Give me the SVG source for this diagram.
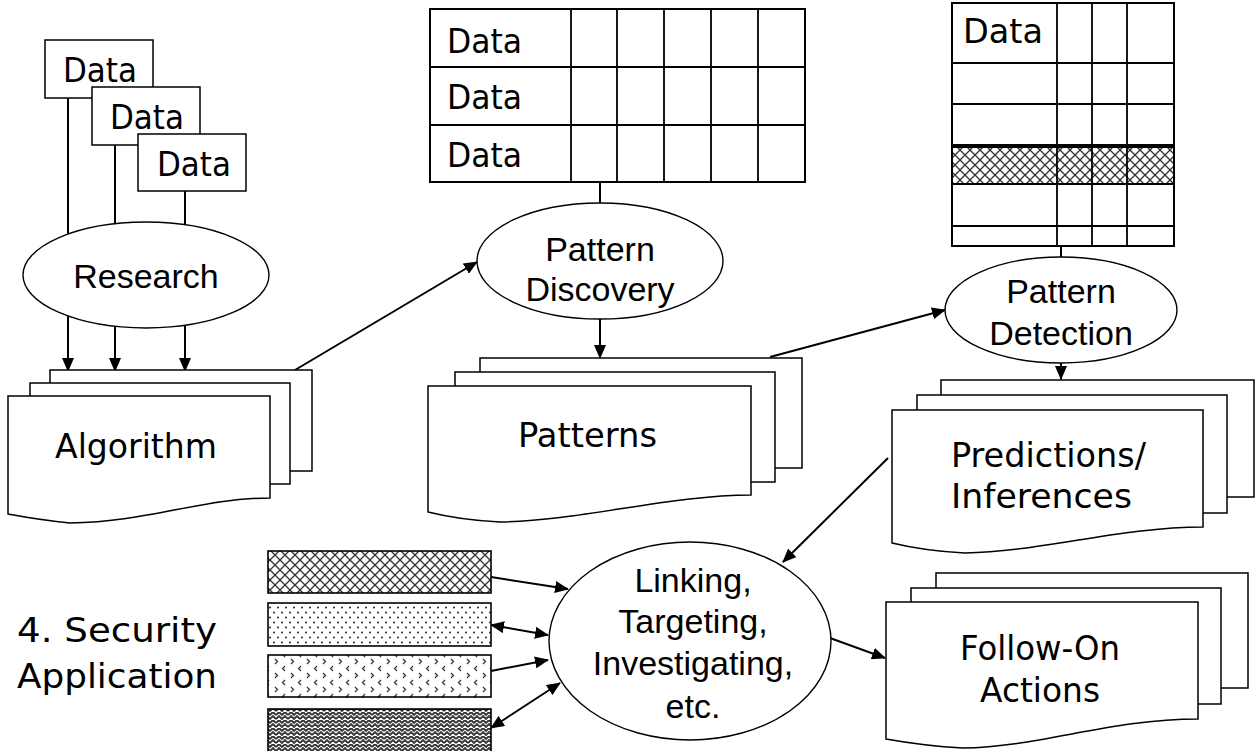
<svg xmlns="http://www.w3.org/2000/svg" width="1256" height="751" viewBox="0 0 1256 751">
<style>
.box{fill:#fff;stroke:#000;stroke-width:1.5}
.sheet{fill:#fff;stroke:#000;stroke-width:1.5}
.ell{fill:#fff;stroke:#000;stroke-width:1.4}
.grid{fill:none;stroke:#000;stroke-width:1.8}
.cn{fill:none;stroke:#000;stroke-width:2}
.arr{marker-end:url(#ah)}
.dbl{marker-end:url(#ah);marker-start:url(#ahs)}
.cs{font-family:"DejaVu Sans","Liberation Sans",sans-serif;font-size:33px;fill:#000}
.ar{font-family:"Liberation Sans",Arial,sans-serif;font-size:34px;fill:#000;text-anchor:middle}
</style>
<defs>
<marker id="ah" markerUnits="userSpaceOnUse" markerWidth="14" markerHeight="12" refX="13" refY="6" orient="auto"><path d="M0,0 L14,6 L0,12 Z" fill="#000"/></marker>
<marker id="ahs" markerUnits="userSpaceOnUse" markerWidth="14" markerHeight="12" refX="13" refY="6" orient="auto-start-reverse"><path d="M0,0 L14,6 L0,12 Z" fill="#000"/></marker>
<pattern id="cross" width="10" height="10" patternUnits="userSpaceOnUse"><rect width="10" height="10" fill="#fff"/><path d="M0,0 L10,10 M10,0 L0,10" stroke="#333" stroke-width="1.3"/></pattern>
<pattern id="dots" width="8" height="10" patternUnits="userSpaceOnUse"><rect width="8" height="10" fill="#fff"/><circle cx="2" cy="2.5" r="1" fill="#222"/><circle cx="6" cy="7.5" r="1" fill="#222"/></pattern>
<pattern id="chev" width="16" height="14" patternUnits="userSpaceOnUse"><rect width="16" height="14" fill="#fff"/><path d="M3,1 l2.5,2.5 l-2.5,2.5 M13,8 l-2.5,2.5 l2.5,2.5" fill="none" stroke="#333" stroke-width="1.2"/></pattern>
<pattern id="weave" width="12" height="8" patternUnits="userSpaceOnUse"><rect width="12" height="8" fill="#fff"/><path d="M0,3 l3,-3 l3,3 l3,-3 l3,3 M0,7 l3,-3 l3,3 l3,-3 l3,3" fill="none" stroke="#333" stroke-width="1.8"/><path d="M1.5,5 l2,-1.5 M7.5,5 l2,-1.5" stroke="#555" stroke-width="1"/></pattern>
</defs>

<g id="connectors">
<line class="cn" x1="68" y1="98" x2="68" y2="234"/>
<line class="cn" x1="115" y1="145" x2="115" y2="224"/>
<line class="cn" x1="185" y1="191" x2="185" y2="225"/>
<line class="cn arr" x1="68" y1="316" x2="68" y2="371"/>
<line class="cn arr" x1="115" y1="326" x2="115" y2="371"/>
<line class="cn arr" x1="185" y1="325" x2="185" y2="371"/>
<line class="cn arr" x1="290" y1="373" x2="477" y2="262"/>
<line class="cn" x1="600" y1="182" x2="600" y2="203"/>
<line class="cn arr" x1="600" y1="319" x2="600" y2="358"/>
<line class="cn arr" x1="770" y1="357" x2="945" y2="310"/>
<line class="cn" x1="1061" y1="246" x2="1061" y2="257"/>
<line class="cn arr" x1="1061" y1="363" x2="1061" y2="379"/>
<line class="cn arr" x1="888" y1="458" x2="783" y2="562"/>
<line class="cn arr" x1="491" y1="577" x2="568" y2="589"/>
<line class="cn dbl" x1="491" y1="625" x2="548" y2="635"/>
<line class="cn arr" x1="491" y1="671" x2="548" y2="660"/>
<line class="cn dbl" x1="491" y1="728" x2="560" y2="683"/>
<line class="cn arr" x1="830" y1="638" x2="885" y2="658"/>
</g>

<g id="data1"><rect class="box" x="45" y="40" width="108" height="58"/><text class="cs" x="63" y="82" textLength="74" lengthAdjust="spacingAndGlyphs">Data</text></g>
<g id="data2"><rect class="box" x="92" y="87" width="108" height="58"/><text class="cs" x="110" y="129" textLength="74" lengthAdjust="spacingAndGlyphs">Data</text></g>
<g id="data3"><rect class="box" x="138" y="134" width="108" height="57"/><text class="cs" x="157" y="176" textLength="74" lengthAdjust="spacingAndGlyphs">Data</text></g>

<g id="research"><ellipse class="ell" cx="146" cy="275" rx="123" ry="53"/><text class="ar" x="146" y="288">Research</text></g>

<g id="algorithm">
<rect class="sheet" x="50" y="370" width="262" height="101"/>
<rect class="sheet" x="30" y="383" width="260" height="101"/>
<path class="sheet" d="M8,396 H270 V498 C200,498 150,522 70,523 Q40,520 8,514 Z"/>
<text class="cs" x="55" y="458" textLength="162" lengthAdjust="spacingAndGlyphs">Algorithm</text>
</g>

<g id="table1">
<rect x="430" y="9" width="375" height="173" fill="#fff" stroke="#000" stroke-width="2"/>
<path class="grid" d="M430,67 H805 M430,125 H805 M571,9 V182 M617,9 V182 M664,9 V182 M711,9 V182 M758,9 V182"/>
<text class="cs" x="447" y="53" textLength="75" lengthAdjust="spacingAndGlyphs">Data</text>
<text class="cs" x="447" y="109" textLength="75" lengthAdjust="spacingAndGlyphs">Data</text>
<text class="cs" x="447" y="167" textLength="75" lengthAdjust="spacingAndGlyphs">Data</text>
</g>

<g id="discovery"><ellipse class="ell" cx="600" cy="261" rx="123" ry="58"/><text class="ar" x="600" y="261">Pattern</text><text class="ar" x="600" y="301">Discovery</text></g>

<g id="patterns">
<rect class="sheet" x="480" y="358" width="322" height="110"/>
<rect class="sheet" x="455" y="372" width="320" height="110"/>
<path class="sheet" d="M428,386 H751 V495 C670,495 580,521 500,522 Q460,520 428,512 Z"/>
<text class="cs" x="518" y="447" textLength="139" lengthAdjust="spacingAndGlyphs">Patterns</text>
</g>

<g id="table2">
<rect x="952" y="146" width="222" height="38" fill="url(#cross)"/>
<rect x="952" y="3" width="222" height="243" fill="none" stroke="#000" stroke-width="2"/>
<path class="grid" d="M952,63 H1174 M952,104 H1174 M952,145 H1174 M952,147 H1174 M952,184 H1174 M952,226 H1174 M1057,3 V246 M1092,3 V246 M1127,3 V246"/>
<text class="cs" x="963" y="43" textLength="80" lengthAdjust="spacingAndGlyphs">Data</text>
</g>

<g id="detection"><ellipse class="ell" cx="1061" cy="310" rx="116" ry="53"/><text class="ar" x="1061" y="303">Pattern</text><text class="ar" x="1061" y="345">Detection</text></g>

<g id="predictions">
<rect class="sheet" x="941" y="380" width="313" height="117"/>
<rect class="sheet" x="917" y="395" width="310" height="118"/>
<path class="sheet" d="M892,410 H1203 V527 C1120,527 1040,552 965,553 Q925,551 892,543 Z"/>
<text class="cs" x="951" y="467" textLength="195" lengthAdjust="spacingAndGlyphs">Predictions/</text>
<text class="cs" x="951" y="508" textLength="181" lengthAdjust="spacingAndGlyphs">Inferences</text>
</g>

<g id="bar1"><rect x="268" y="551" width="223" height="42" fill="url(#cross)" stroke="#000" stroke-width="1.6"/></g>
<g id="bar2"><rect x="268" y="603" width="223" height="43" fill="url(#dots)" stroke="#000" stroke-width="1.6"/></g>
<g id="bar3"><rect x="268" y="655" width="223" height="42" fill="url(#chev)" stroke="#000" stroke-width="1.6"/></g>
<g id="bar4"><rect x="268" y="709" width="223" height="50" fill="url(#weave)" stroke="#000" stroke-width="1.6"/></g>

<g id="security"><text class="cs" x="17" y="642" textLength="200" lengthAdjust="spacingAndGlyphs">4. Security</text><text class="cs" x="17" y="688" textLength="200" lengthAdjust="spacingAndGlyphs">Application</text></g>

<g id="linking"><ellipse class="ell" cx="690" cy="641" rx="141" ry="99"/>
<text class="ar" x="693" y="592">Linking,</text><text class="ar" x="693" y="633">Targeting,</text><text class="ar" x="693" y="675">Investigating,</text><text class="ar" x="693" y="718">etc.</text></g>

<g id="followon">
<rect class="sheet" x="936" y="573" width="312" height="115"/>
<rect class="sheet" x="911" y="588" width="310" height="116"/>
<path class="sheet" d="M886,602 H1198 V719 C1110,719 1040,747 963,748 Q925,746 886,739 Z"/>
<text class="cs" x="960" y="660" textLength="160" lengthAdjust="spacingAndGlyphs">Follow-On</text>
<text class="cs" x="980" y="702" textLength="120" lengthAdjust="spacingAndGlyphs">Actions</text>
</g>
</svg>
